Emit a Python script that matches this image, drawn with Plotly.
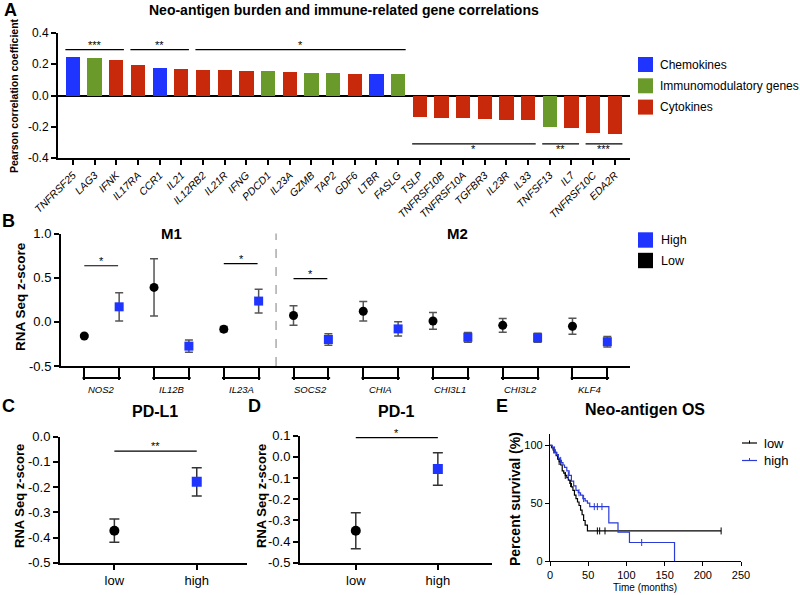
import plotly.graph_objects as go

FONT = "Liberation Sans, Arial, sans-serif"
BLUE = "#1f35ff"
GREEN = "#6a9a2a"
RED = "#c8290a"
W, H = 800, 595

# ---------------- panel A data ----------------
genes_a = ["TNFRSF25", "LAG3", "IFNK", "IL17RA", "CCR1", "IL21", "IL12RB2", "IL21R",
           "IFNG", "PDCD1", "IL23A", "GZMB", "TAP2", "GDF6", "LTBR", "FASLG",
           "TSLP", "TNFRSF10B", "TNFRSF10A", "TGFBR3", "IL23R", "IL33",
           "TNFSF13", "IL7", "TNFRSF10C", "EDA2R"]
corr_a = [0.245, 0.239, 0.228, 0.198, 0.176, 0.172, 0.166, 0.161,
          0.160, 0.155, 0.153, 0.144, 0.144, 0.137, 0.135, 0.135,
          -0.140, -0.144, -0.144, -0.150, -0.157, -0.157,
          -0.200, -0.206, -0.237, -0.247]
group_a = ["Chemokines", "Immunomodulatory genes", "Cytokines", "Cytokines",
           "Chemokines", "Cytokines", "Cytokines", "Cytokines",
           "Cytokines", "Immunomodulatory genes", "Cytokines", "Immunomodulatory genes",
           "Immunomodulatory genes", "Cytokines", "Chemokines", "Immunomodulatory genes",
           "Cytokines", "Cytokines", "Cytokines", "Cytokines", "Cytokines", "Cytokines",
           "Immunomodulatory genes", "Cytokines", "Cytokines", "Cytokines"]
groups = ["Chemokines", "Immunomodulatory genes", "Cytokines"]
group_colors = {"Chemokines": BLUE, "Immunomodulatory genes": GREEN, "Cytokines": RED}
# (label, first bar, last bar, line height)
sig_a = [("***", 0, 2, 0.293), ("**", 3, 5, 0.293), ("*", 6, 15, 0.293),
         ("*", 16, 21, -0.31), ("**", 22, 23, -0.31), ("***", 24, 25, -0.31)]
ytick_a = [-0.4, -0.2, 0.0, 0.2, 0.4]
ytext_a = ["-0.4", "-0.2", "0.0", "0.2", "0.4"]

# ---------------- panel B data ----------------
genes_b = ["NOS2", "IL12B", "IL23A", "SOCS2", "CHIA", "CHI3L1", "CHI3L2", "KLF4"]
low_b = [-0.16, 0.39, -0.083, 0.072, 0.12, 0.01, -0.04, -0.05]
low_b_err = [0.015, 0.325, 0.03, 0.11, 0.11, 0.095, 0.077, 0.09]
high_b = [0.17, -0.275, 0.235, -0.20, -0.08, -0.175, -0.18, -0.225]
high_b_err = [0.16, 0.07, 0.135, 0.065, 0.08, 0.055, 0.05, 0.06]
sig_b = [("*", 0, 0.635), ("*", 2, 0.66), ("*", 3, 0.49)]
ytick_b = [-0.5, 0.0, 0.5, 1.0]
ytext_b = ["-0.5", "0.0", "0.5", "1.0"]

# ---------------- panels C / D data ----------------
groups_cd = ["low", "high"]
pdl1_mean = [-0.373, -0.179]
pdl1_err = [0.046, 0.056]
pd1_mean = [-0.349, -0.057]
pd1_err = [0.085, 0.077]
ytick_c = [-0.5, -0.4, -0.3, -0.2, -0.1, 0.0]
ytext_c = ["-0.5", "-0.4", "-0.3", "-0.2", "-0.1", "0.0"]
ytick_d = [-0.5, -0.4, -0.3, -0.2, -0.1, 0.0, 0.1]
ytext_d = ["-0.5", "-0.4", "-0.3", "-0.2", "-0.1", "0.0", "0.1"]

# ---------------- panel E data (Kaplan-Meier steps) ----------------
low_t = [0, 2, 4, 6, 8, 10, 12, 14, 16, 18, 20, 22, 24, 26, 28, 30, 32, 34, 36, 38,
         40, 42, 44, 46, 49, 224]
low_s = [100, 98, 96, 94, 91, 88, 86, 83, 78, 76, 74, 72, 70, 67, 64, 61, 57, 54, 51, 48,
         44, 40, 35, 31, 26, 26]
low_cens_t = [5, 12, 20, 27, 62, 65, 72, 224]
low_cens_s = [96, 86, 74, 67, 26, 26, 26, 26]
high_t = [0, 3, 5, 7, 9, 11, 13, 15, 17, 19, 22, 25, 28, 31, 34, 37, 40, 43, 46, 49,
          52, 77, 89, 104, 163]
high_s = [100, 98, 96, 94, 92, 89, 87, 85, 83, 81, 78, 74, 69, 65, 61, 59, 57, 54, 52, 50,
          47, 33, 25, 16, 0]
high_cens_t = [6, 14, 24, 38, 44, 58, 62, 68, 120]
high_cens_s = [96, 87, 74, 59, 54, 47, 47, 47, 16]


def px(x):
    return x / W


def py(y):
    return 1 - y / H


fig = go.Figure()

# A: bars
fig.add_trace(go.Bar(
    x=genes_a, y=corr_a, width=0.66,
    marker=dict(color=[group_colors[g] for g in group_a], line=dict(width=0)),
    xaxis="x", yaxis="y", showlegend=False,
))

# B: low / high points
fig.add_trace(go.Scatter(
    x=[2 * i for i in range(len(genes_b))], y=low_b, mode="markers",
    marker=dict(symbol="circle", size=9, color="black"),
    error_y=dict(type="data", array=low_b_err, color="#555", thickness=1.5, width=4),
    xaxis="x2", yaxis="y2", showlegend=False,
))
fig.add_trace(go.Scatter(
    x=[2 * i + 1 for i in range(len(genes_b))], y=high_b, mode="markers",
    marker=dict(symbol="square", size=9, color=BLUE),
    error_y=dict(type="data", array=high_b_err, color="#555", thickness=1.5, width=4),
    xaxis="x2", yaxis="y2", showlegend=False,
))

# C and D
for mean, err, xa, ya in [(pdl1_mean, pdl1_err, "x3", "y3"), (pd1_mean, pd1_err, "x4", "y4")]:
    fig.add_trace(go.Scatter(
        x=[0], y=[mean[0]], mode="markers",
        marker=dict(symbol="circle", size=10, color="black"),
        error_y=dict(type="data", array=[err[0]], color="#333", thickness=1.5, width=5),
        xaxis=xa, yaxis=ya, showlegend=False,
    ))
    fig.add_trace(go.Scatter(
        x=[1], y=[mean[1]], mode="markers",
        marker=dict(symbol="square", size=10, color=BLUE),
        error_y=dict(type="data", array=[err[1]], color="#333", thickness=1.5, width=5),
        xaxis=xa, yaxis=ya, showlegend=False,
    ))

# E: survival curves
for t, s, ct, cs, col in [(low_t, low_s, low_cens_t, low_cens_s, "black"),
                          (high_t, high_s, high_cens_t, high_cens_s, "#2b3bd6")]:
    fig.add_trace(go.Scatter(
        x=t, y=s, mode="lines", line=dict(shape="hv", color=col, width=1.2),
        xaxis="x5", yaxis="y5", showlegend=False,
    ))
    fig.add_trace(go.Scatter(
        x=ct, y=cs, mode="markers",
        marker=dict(symbol="line-ns", size=5, line=dict(width=1, color=col)),
        xaxis="x5", yaxis="y5", showlegend=False,
    ))

axis_common = dict(showline=True, linecolor="black", linewidth=2, ticks="outside",
                   tickwidth=2, tickcolor="black", showgrid=False, zeroline=False,
                   mirror=False, automargin=False)


def tf(size, **kw):
    return dict(size=size, color="black", family=FONT, **kw)


fig.update_layout(
    width=W, height=H,
    margin=dict(l=0, r=0, t=0, b=0, autoexpand=False),
    paper_bgcolor="white", plot_bgcolor="white",
    font=dict(family=FONT, color="black"),
    bargap=0,
    xaxis=dict(axis_common, domain=[px(58), px(630)], anchor="y",
               range=[-0.69, 25.7], type="category", ticklen=5, tickangle=-45,
               tickfont=tf(10.5, style="italic")),
    yaxis=dict(axis_common, domain=[py(158), py(33)], anchor="x",
               range=[-0.4, 0.4], tickvals=ytick_a, ticktext=ytext_a, ticklen=5,
               tickfont=tf(12), zeroline=True, zerolinecolor="black",
               zerolinewidth=2),
    xaxis2=dict(axis_common, domain=[px(61), px(630)], anchor="y2",
                range=[-0.668, 15.65], tickvals=list(range(16)),
                showticklabels=False, ticklen=12),
    yaxis2=dict(axis_common, domain=[py(366), py(233.5)], anchor="x2",
                range=[-0.5, 1.0], tickvals=ytick_b, ticktext=ytext_b, ticklen=5,
                tickfont=tf(13)),
    xaxis3=dict(axis_common, domain=[px(60), px(247)], anchor="y3",
                range=[-0.66, 1.61], tickvals=[0, 1], ticktext=groups_cd, ticklen=5,
                tickfont=tf(13)),
    yaxis3=dict(axis_common, domain=[py(562.7), py(436.7)], anchor="x3",
                range=[-0.5, 0.0], tickvals=ytick_c, ticktext=ytext_c, ticklen=5,
                tickfont=tf(13)),
    xaxis4=dict(axis_common, domain=[px(300), px(492)], anchor="y4",
                range=[-0.68, 1.66], tickvals=[0, 1], ticktext=groups_cd, ticklen=5,
                tickfont=tf(13)),
    yaxis4=dict(axis_common, domain=[py(562.7), py(435.7)], anchor="x4",
                range=[-0.5, 0.1], tickvals=ytick_d, ticktext=ytext_d, ticklen=5,
                tickfont=tf(13)),
    xaxis5=dict(axis_common, domain=[px(550), px(741)], anchor="y5",
                range=[0, 250], dtick=50, ticklen=4, linewidth=1.3, tickwidth=1.3,
                tickfont=tf(11)),
    yaxis5=dict(axis_common, domain=[py(561), py(434)], anchor="x5",
                range=[0, 109.8], tickvals=[0, 50, 100], ticklen=4, linewidth=1.3,
                tickwidth=1.3, tickfont=tf(11)),
)

shapes = []
ann = []


def text(x, y, s, size, bold=False, **kw):
    if bold:
        s = "<b>" + s + "</b>"
    d = dict(x=x, y=y, text=s, showarrow=False, xref="paper", yref="paper",
             xanchor="center", yanchor="middle", font=tf(size))
    d.update(kw)
    ann.append(d)


# panel letters and titles
for letter, x, y in [("A", 10, 10), ("B", 8, 221), ("C", 8, 406), ("D", 254, 406), ("E", 502, 406)]:
    text(px(x), py(y), letter, 18, bold=True)
text(px(344), py(10), "Neo-antigen burden and immune-related gene correlations", 14, bold=True)
text(px(171), py(234), "M1", 15, bold=True)
text(px(457), py(234), "M2", 15, bold=True)
text(px(155), py(411), "PD-L1", 16, bold=True)
text(px(396), py(411), "PD-1", 16, bold=True)
text(px(645), py(409), "Neo-antigen OS", 16, bold=True)

# axis titles
text(px(14), py(96), "Pearson correlation coefficient", 10.5, bold=True, textangle=-90)
text(px(20), py(297), "RNA Seq z-score", 13.5, bold=True, textangle=-90)
text(px(19), py(496), "RNA Seq z-score", 13, bold=True, textangle=-90)
text(px(261), py(496), "RNA Seq z-score", 13, bold=True, textangle=-90)
text(px(515), py(499), "Percent survival (%)", 14, bold=True, textangle=-90)
text(px(645), py(587), "Time (months)", 10)

# A significance
for lab, i, j, yv in sig_a:
    shapes.append(dict(type="line", xref="x", yref="y", x0=i - 0.35, x1=j + 0.35,
                       y0=yv, y1=yv, line=dict(color="black", width=1.2)))
    ann.append(dict(x=(i + j) / 2, y=yv, xref="x", yref="y", text=lab, showarrow=False,
                    xanchor="center", yanchor="bottom" if yv > 0 else "top",
                    yshift=-3 if yv > 0 else 3, font=tf(11)))

# A legend
for k, g in enumerate(groups):
    yc = 64.5 + 21.3 * k
    shapes.append(dict(type="rect", xref="paper", yref="paper", x0=px(638), x1=px(653),
                       y0=py(yc + 7.5), y1=py(yc - 7.5), fillcolor=group_colors[g],
                       line=dict(width=0)))
    text(px(658), py(yc), g, 12, xanchor="left")

# B dashed separator
shapes.append(dict(type="line", xref="x2", yref="y2 domain", x0=5.5, x1=5.5, y0=0, y1=1,
                   line=dict(color="#aaa", width=1.5, dash="dash")))
# B significance
for lab, gi, yv in sig_b:
    shapes.append(dict(type="line", xref="x2", yref="y2", x0=2 * gi, x1=2 * gi + 0.97,
                       y0=yv, y1=yv, line=dict(color="black", width=1.2)))
    ann.append(dict(x=2 * gi + 0.5, y=yv, xref="x2", yref="y2", text=lab, showarrow=False,
                    xanchor="center", yanchor="bottom", yshift=-3, font=tf(11)))
# B gene brackets
for i, g in enumerate(genes_b):
    shapes.append(dict(type="line", xref="x2", yref="y2 domain", x0=2 * i - 0.05,
                       x1=2 * i + 1.05, y0=-0.09, y1=-0.09,
                       line=dict(color="black", width=2)))
    ann.append(dict(x=2 * i + 0.5, y=-0.175, xref="x2", yref="y2 domain",
                    text="<i>" + g + "</i>", showarrow=False,
                    xanchor="center", yanchor="middle", font=tf(9.5)))
# B legend
for k, (lab, col) in enumerate([("High", BLUE), ("Low", "black")]):
    yc = 240 + 20.5 * k
    shapes.append(dict(type="rect", xref="paper", yref="paper", x0=px(638), x1=px(653),
                       y0=py(yc + 7.7), y1=py(yc - 7.7), fillcolor=col,
                       line=dict(width=0)))
    text(px(659), py(yc), lab, 12.5, xanchor="left")

# C / D significance
for lab, xa, ya, yv in [("**", "x3", "y3", -0.057), ("*", "x4", "y4", 0.091)]:
    shapes.append(dict(type="line", xref=xa, yref=ya, x0=0, x1=1, y0=yv, y1=yv,
                       line=dict(color="black", width=1.2)))
    ann.append(dict(x=0.5, y=yv, xref=xa, yref=ya, text=lab, showarrow=False,
                    xanchor="center", yanchor="bottom", yshift=-3, font=tf(11)))

# E legend
for k, (lab, col) in enumerate([("low", "black"), ("high", "#2b3bd6")]):
    yc = 443 + 17.5 * k
    shapes.append(dict(type="line", xref="paper", yref="paper", x0=px(742), x1=px(757),
                       y0=py(yc), y1=py(yc), line=dict(color=col, width=1.2)))
    shapes.append(dict(type="line", xref="paper", yref="paper", x0=px(749.5), x1=px(749.5),
                       y0=py(yc - 2.5), y1=py(yc + 0.5), line=dict(color=col, width=1)))
    text(px(762), py(yc), lab, 13, xanchor="left")

fig.update_layout(shapes=shapes, annotations=ann)
fig.write_html("out.html", config={"displayModeBar": False},
               post_script="document.body.style.margin='0';")
